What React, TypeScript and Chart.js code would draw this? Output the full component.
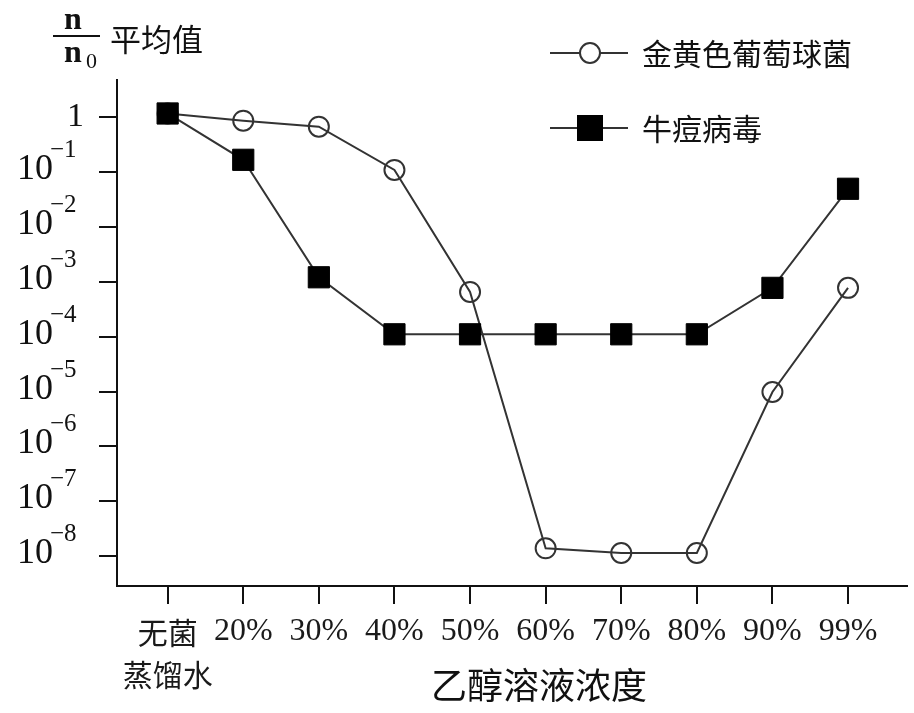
import { useEffect, useRef } from "react";
import { Chart, registerables } from "chart.js";

Chart.register(...registerables);

const SERIF = "'Liberation Serif', 'DejaVu Serif', serif";
const CJK = "'Noto Sans CJK SC', 'Noto Sans', sans-serif";

// x categories (first label is two lines)
const xTickLabels: (string | string[])[] = [
  ["无菌", "蒸馏水"],
  "20%",
  "30%",
  "40%",
  "50%",
  "60%",
  "70%",
  "80%",
  "90%",
  "99%",
];

// n/n0 mean values
const staphValues = [1.15, 0.85, 0.66, 0.108, 6.5e-4, 1.4e-8, 1.15e-8, 1.15e-8, 9.8e-6, 7.7e-4];
const vacciniaValues = [1.15, 0.165, 1.2e-3, 1.1e-4, 1.1e-4, 1.1e-4, 1.1e-4, 1.1e-4, 7.7e-4, 0.049];

const yTickExponents = [0, -1, -2, -3, -4, -5, -6, -7, -8];

const seriesNames = ["金黄色葡萄球菌", "牛痘病毒"];
const yTitleText = "平均值";
const xTitleText = "乙醇溶液浓度";

const INK = "#111";
const LINE = "#333";

const textPlugin = {
  id: "textPlugin",
  afterDraw(chart: any) {
    const { ctx, scales } = chart;
    const y = scales.y;
    const x = scales.x;
    const axisX = y.right;
    ctx.save();
    ctx.fillStyle = INK;

    // y tick labels with superscripts
    ctx.textBaseline = "alphabetic";
    yTickExponents.forEach((e) => {
      const py = y.getPixelForValue(Math.pow(10, e));
      if (e === 0) {
        ctx.textAlign = "right";
        ctx.font = `34px ${SERIF}`;
        ctx.fillText("1", axisX - 33, py + 9);
      } else {
        ctx.textAlign = "right";
        ctx.font = `36px ${SERIF}`;
        ctx.fillText("10", axisX - 64, py + 7);
        ctx.textAlign = "left";
        ctx.font = `25px ${SERIF}`;
        ctx.fillText("−" + Math.abs(e), axisX - 67, py - 15);
      }
    });

    // y title: n / n0 平均值
    ctx.textAlign = "center";
    ctx.font = `bold 32px ${SERIF}`;
    ctx.fillText("n", 73, 29);
    ctx.fillText("n", 73, 62);
    ctx.textAlign = "left";
    ctx.font = `22px ${SERIF}`;
    ctx.fillText("0", 86, 68);
    ctx.strokeStyle = INK;
    ctx.lineWidth = 2;
    ctx.beginPath();
    ctx.moveTo(53, 36);
    ctx.lineTo(100, 36);
    ctx.stroke();
    ctx.textBaseline = "middle";
    ctx.font = `31px ${CJK}`;
    ctx.fillText(yTitleText, 110, 39);

    // legend
    ctx.strokeStyle = LINE;
    ctx.lineWidth = 2;
    [53, 128].forEach((ly) => {
      ctx.beginPath();
      ctx.moveTo(550, ly);
      ctx.lineTo(628, ly);
      ctx.stroke();
    });
    ctx.beginPath();
    ctx.arc(590, 53, 10, 0, Math.PI * 2);
    ctx.fillStyle = "#fff";
    ctx.fill();
    ctx.stroke();
    ctx.fillStyle = "#000";
    ctx.fillRect(577, 115, 26, 26);
    ctx.fillStyle = INK;
    ctx.font = `30px ${CJK}`;
    ctx.fillText(seriesNames[0], 642, 54);
    ctx.fillText(seriesNames[1], 642, 129);

    // x title
    ctx.textAlign = "center";
    ctx.font = `36px ${CJK}`;
    ctx.fillText(xTitleText, (x.left + x.right) / 2 + 27, 685);
    ctx.restore();
  },
};

export default function App() {
  const canvasRef = useRef<HTMLCanvasElement>(null);

  useEffect(() => {
    const canvas = canvasRef.current;
    if (!canvas) return;
    const axisStyle = {
      grid: {
        drawOnChartArea: false,
        drawTicks: true,
        tickLength: 18,
        color: INK,
        lineWidth: 2,
      },
      border: { display: true, color: INK, width: 2 },
    };
    const chart = new Chart(canvas, {
      type: "line",
      data: {
        datasets: [
          {
            label: seriesNames[0],
            data: staphValues.map((v, i) => ({ x: i, y: v })),
            borderColor: LINE,
            borderWidth: 2,
            pointStyle: "circle",
            pointRadius: 10,
            pointBorderWidth: 2,
            pointBorderColor: LINE,
            pointBackgroundColor: "rgba(255,255,255,0)",
            tension: 0,
            order: 1,
          },
          {
            label: seriesNames[1],
            data: vacciniaValues.map((v, i) => ({ x: i, y: v })),
            borderColor: LINE,
            borderWidth: 2,
            pointStyle: "rect",
            pointRadius: 15,
            pointBorderWidth: 1,
            pointBorderColor: "#000",
            pointBackgroundColor: "#000",
            tension: 0,
            order: 0,
          },
        ],
      },
      options: {
        animation: false,
        responsive: true,
        maintainAspectRatio: false,
        layout: { autoPadding: false, padding: { left: 0, right: 7, top: 80, bottom: 0 } },
        plugins: {
          legend: { display: false },
          tooltip: { enabled: false },
        },
        scales: {
          x: {
            type: "linear",
            min: -0.67,
            max: 9.78,
            afterBuildTicks: (scale: any) => {
              scale.ticks = xTickLabels.map((_, i) => ({ value: i }));
            },
            afterFit: (scale: any) => {
              scale.height = 127;
              scale.paddingLeft = 0;
              scale.paddingRight = 0;
            },
            ...axisStyle,
            ticks: {
              autoSkip: false,
              maxRotation: 0,
              padding: 8,
              color: "#1a1a1a",
              callback: (_v: any, index: number) => xTickLabels[index],
              font: (c: any) =>
                c.index === 0
                  ? { family: CJK, size: 30, lineHeight: 1.4 }
                  : { family: SERIF, size: 32, lineHeight: 1.2 },
            },
          },
          y: {
            type: "logarithmic",
            min: Math.pow(10, -8.54),
            max: Math.pow(10, 0.67),
            afterBuildTicks: (scale: any) => {
              scale.ticks = yTickExponents.map((e) => ({ value: Math.pow(10, e) }));
            },
            afterFit: (scale: any) => {
              scale.width = 117;
            },
            ...axisStyle,
            ticks: { display: false },
          },
        },
      } as any,
      plugins: [textPlugin],
    });
    return () => chart.destroy();
  }, []);

  return (
    <div style={{ position: "absolute", left: 0, top: 0, width: 914, height: 713, background: "#fff" }}>
      <canvas ref={canvasRef} />
    </div>
  );
}
